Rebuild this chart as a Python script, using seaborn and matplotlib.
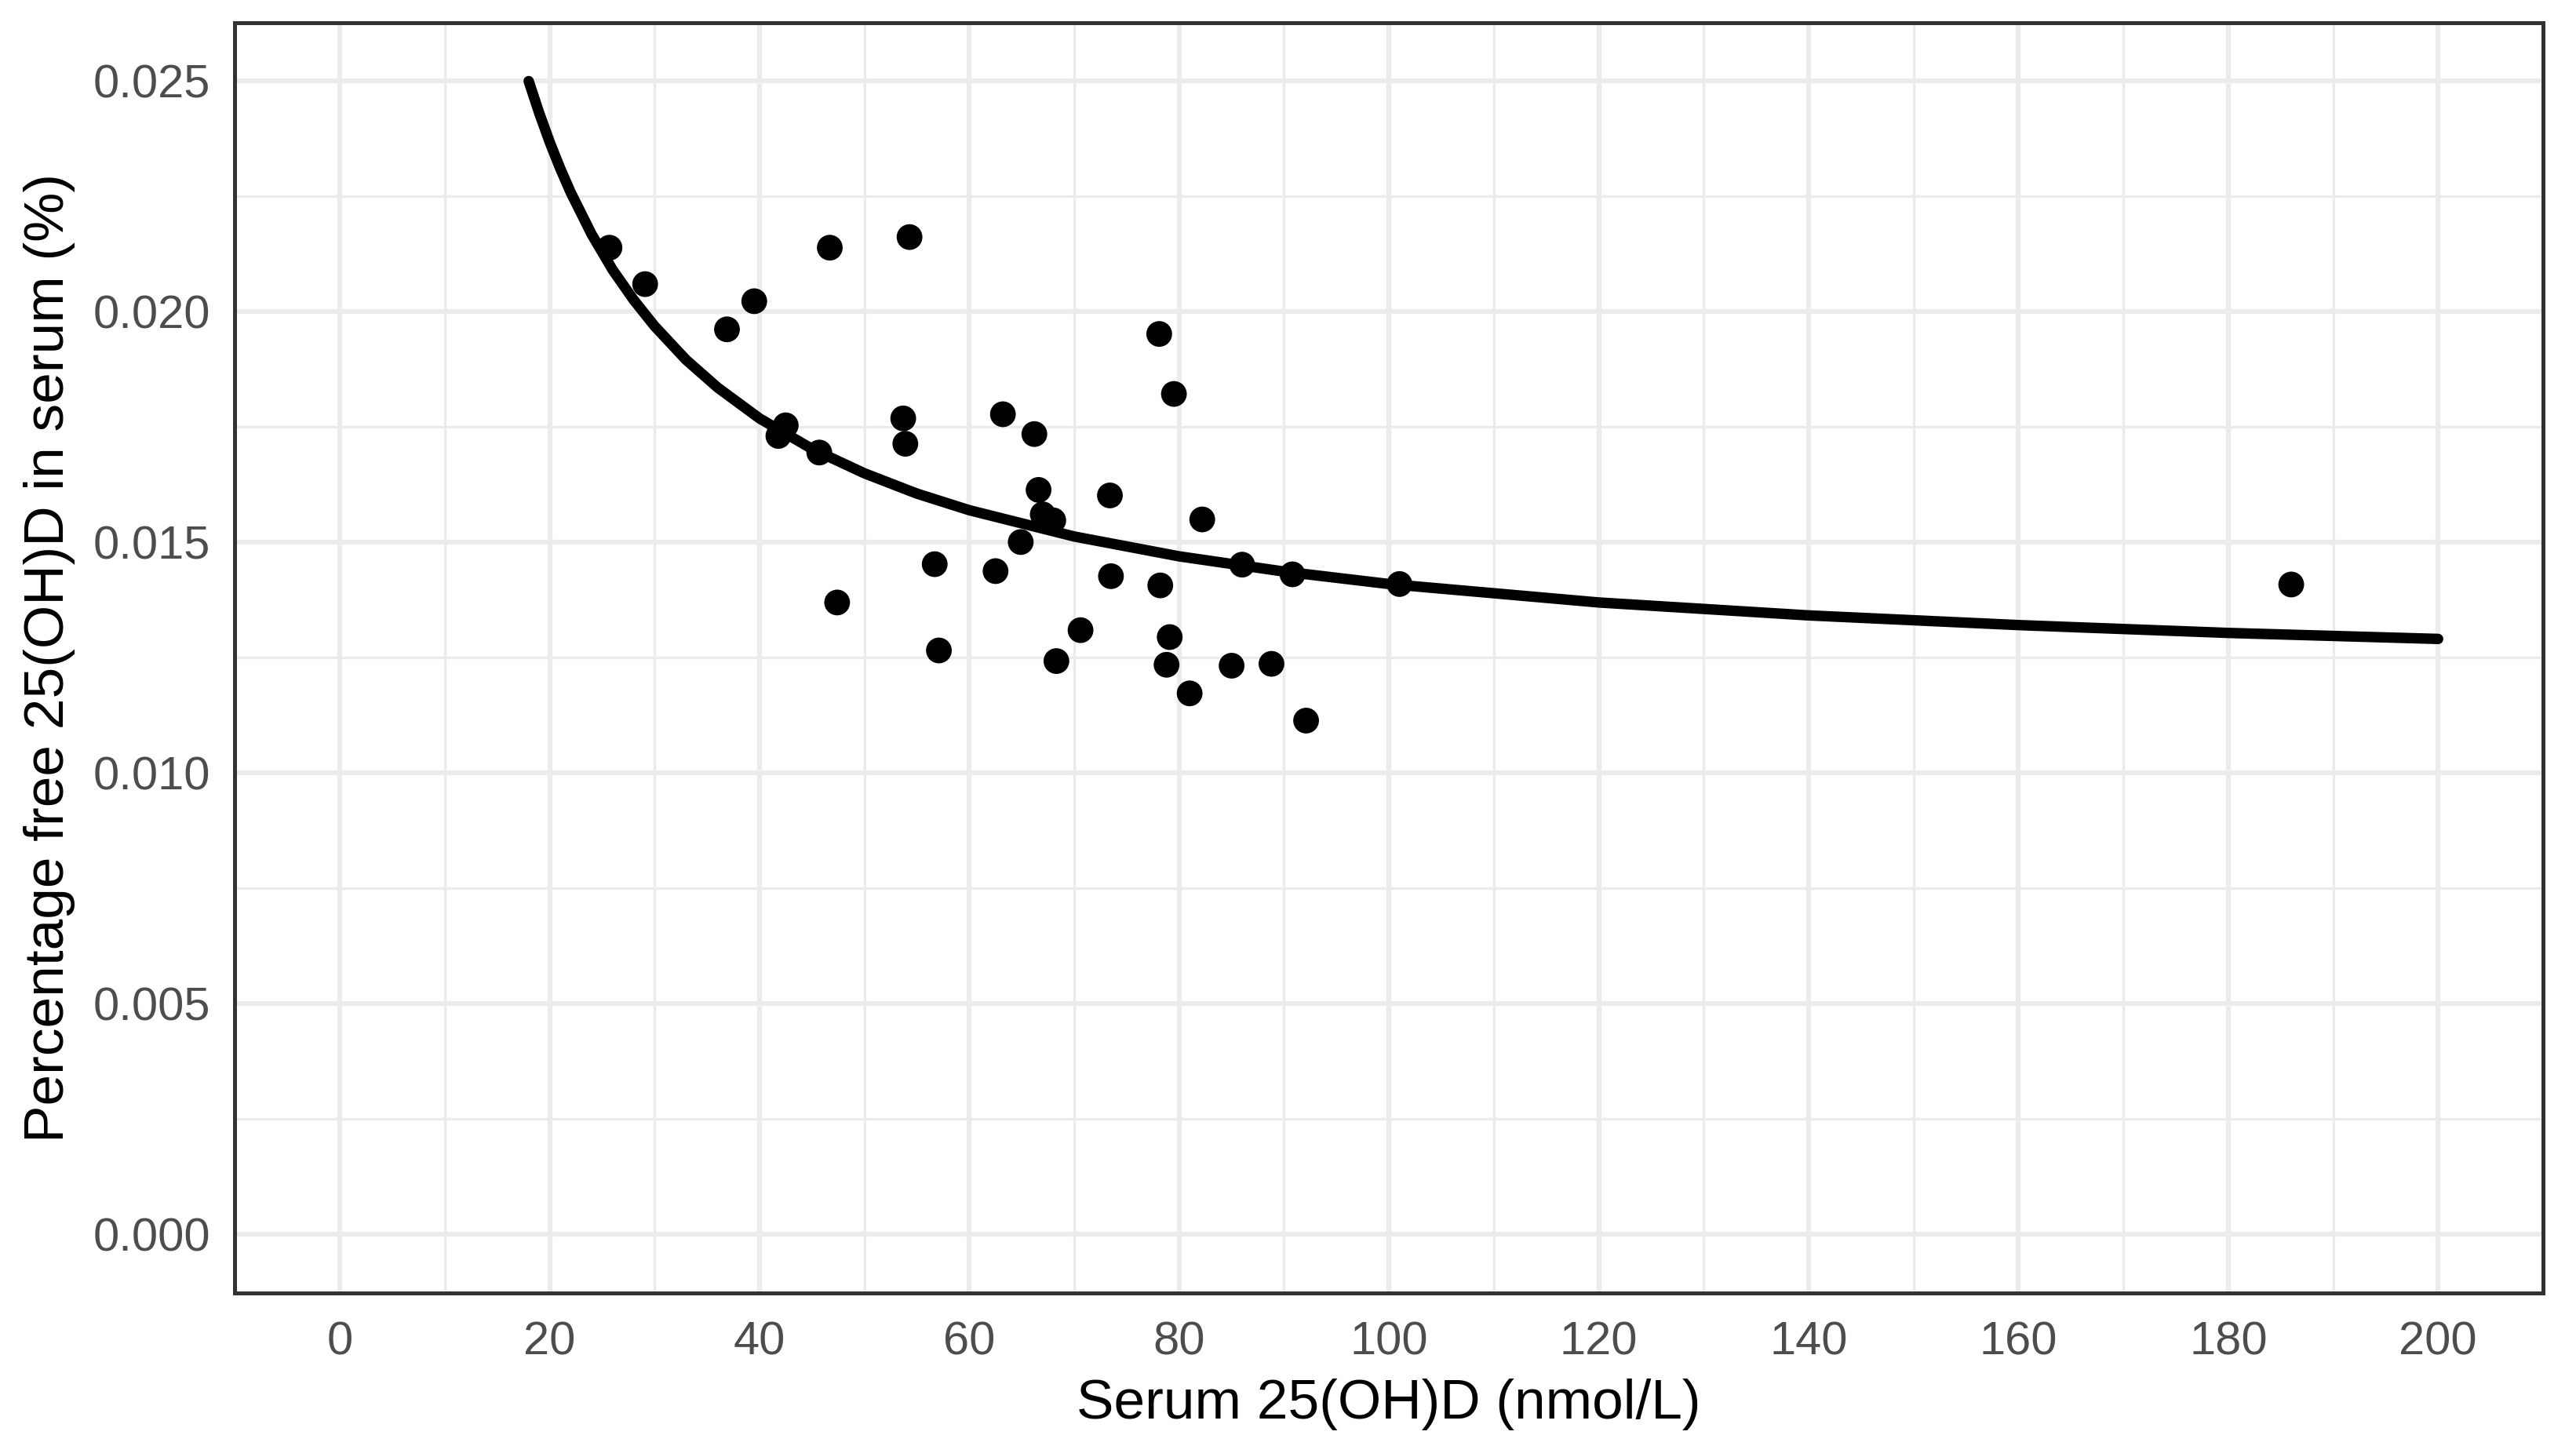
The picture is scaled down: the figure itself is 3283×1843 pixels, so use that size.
import matplotlib
matplotlib.use("Agg")
import matplotlib.pyplot as plt
import seaborn as sns
import pandas as pd
from matplotlib.ticker import MultipleLocator, FormatStrFormatter

# Scatter data: serum 25(OH)D (nmol/L) vs percentage free 25(OH)D (%)
serum_25ohd = [25.7, 29.1, 36.9, 39.5, 46.7, 54.3, 42.5, 41.8, 45.7, 53.7,
               53.9, 63.2, 47.4, 56.7, 62.5, 57.1,
               78.1, 79.5, 66.2, 66.6, 67.0, 68.0, 73.4, 82.2, 64.9, 73.5,
               78.2, 86.0, 90.8, 101.0, 70.6, 79.1, 68.3, 78.8, 85.0, 88.8,
               81.0, 92.1, 186.0]
pct_free = [0.02138, 0.02059, 0.01961, 0.02022, 0.02138, 0.02161, 0.01753,
            0.01730, 0.01694, 0.01768, 0.01713, 0.01777, 0.01369, 0.01452,
            0.01437, 0.01265,
            0.01951, 0.01821, 0.01734, 0.01613, 0.01560, 0.01547, 0.01601,
            0.01549, 0.01500, 0.01426, 0.01406, 0.01451, 0.01430, 0.01409,
            0.01309, 0.01294, 0.01242, 0.01234, 0.01232, 0.01236, 0.01172,
            0.01113, 0.01408]

# Fitted curve, values
curve_x = [18, 19, 20, 21, 22, 24, 26, 28, 30, 33, 36, 40, 45, 50, 55, 60,
           70, 80, 90, 100, 120, 140, 160, 180, 200]
curve_y = [0.02499, 0.02430, 0.02367, 0.02310, 0.02258, 0.02167, 0.02090,
           0.02025, 0.01968, 0.01895, 0.01835, 0.01768, 0.01702, 0.01649,
           0.01605, 0.01569, 0.01512, 0.01469, 0.01436, 0.01409, 0.01369,
           0.01341, 0.01320, 0.01303, 0.01290]

x_ticks = [0, 20, 40, 60, 80, 100, 120, 140, 160, 180, 200]
y_ticks = [0.000, 0.005, 0.010, 0.015, 0.020, 0.025]
x_label = "Serum 25(OH)D (nmol/L)"
y_label = "Percentage free 25(OH)D in serum (%)"

sns.set_style("white")
plt.rcParams['font.family'] = ['Liberation Sans', 'DejaVu Sans']

W, H, DPI = 3283, 1843, 300
fig = plt.figure(figsize=(W / DPI, H / DPI), dpi=DPI)
ax = fig.add_axes([0.0912, 0.1057, 0.8960, 0.8784])

pts = pd.DataFrame({"x": serum_25ohd, "y": pct_free})
crv = pd.DataFrame({"x": curve_x, "y": curve_y})

sns.lineplot(data=crv, x="x", y="y", ax=ax, color="black", linewidth=3.2,
             sort=True, zorder=3)
sns.scatterplot(data=pts, x="x", y="y", ax=ax, color="black", s=62,
                edgecolor="none", linewidth=0, zorder=4)

ax.set_xlim(-10, 210)
ax.set_ylim(-0.00128, 0.02625)
ax.set_xticks(x_ticks)
ax.set_yticks(y_ticks)
ax.xaxis.set_minor_locator(MultipleLocator(10))
ax.yaxis.set_minor_locator(MultipleLocator(0.0025))
ax.yaxis.set_major_formatter(FormatStrFormatter('%.3f'))

ax.grid(which="major", color="#EBEBEB", linewidth=1.5, zorder=0)
ax.grid(which="minor", color="#EBEBEB", linewidth=0.8, zorder=0)
ax.set_axisbelow(True)

for s in ax.spines.values():
    s.set_visible(True)
    s.set_color("#333333")
    s.set_linewidth(1.2)

ax.tick_params(axis="both", which="major", length=4.5, width=1.2,
               color="#333333", labelsize=14.3, labelcolor="#4D4D4D")
ax.tick_params(axis="x", which="major", pad=4.0)
ax.tick_params(axis="y", which="major", pad=3)
ax.tick_params(axis="both", which="minor", length=0)

ax.set_xlabel(x_label, fontsize=17.1, color="black")
ax.set_ylabel(y_label, fontsize=17.1, color="black")
ax.xaxis.set_label_coords(0.5, -0.0877)
ax.xaxis.label.set_va("center")
ax.yaxis.set_label_coords(-0.0802, 0.5)
ax.yaxis.label.set_va("center")

fig.savefig("out.png", dpi=DPI, facecolor="white")
